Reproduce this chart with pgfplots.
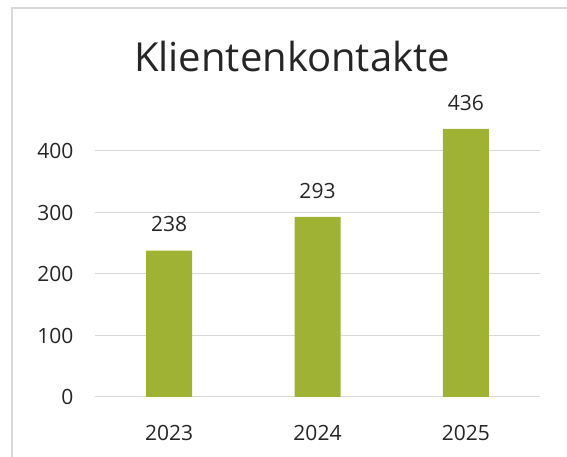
\documentclass[border=0pt]{standalone}
\usepackage{fontspec}
\setmainfont{Open Sans}
\usepackage{pgfplots}
\pgfplotsset{compat=1.18}
\definecolor{bargreen}{RGB}{160,178,52}
\definecolor{gridgray}{RGB}{217,217,217}
\definecolor{txt}{RGB}{38,38,38}

\begin{document}
\begin{tikzpicture}[x=1pt,y=1pt]
  \path[use as bounding box] (0,0) rectangle (567,457);
  \draw[gridgray, line width=1.5pt] (12,0) -- (12,449) -- (567,449);
  \node[txt, font=\fontsize{40}{48}\selectfont] at (292,400) {Klientenkontakte};
  \begin{axis}[
    at={(95pt,60pt)}, anchor=south west,
    scale only axis,
    width=445pt, height=276.75pt,
    ymin=0, ymax=450,
    xmin=-0.5, xmax=2.5,
    ytick={0,100,200,300,400},
    xtick=data,
    xticklabels={2023,2024,2025},
    ybar, bar width=46pt,
    axis x line*=bottom,
    axis y line*=left,
    x axis line style={draw=gridgray, line width=1pt},
    y axis line style={draw=none},
    major tick length=0pt,
    ymajorgrids,
    grid style={draw=gridgray, line width=1pt},
    tick label style={txt, font=\fontsize{21}{26}\selectfont},
    /pgf/number format/assume math mode=true,
    yticklabel style={xshift=-18pt},
    xticklabel style={yshift=-25pt},
    nodes near coords,
    nodes near coords style={txt, font=\fontsize{21}{26}\selectfont, yshift=15pt},
  ]
    \addplot[fill=bargreen, draw=none] coordinates {(0,238) (1,293) (2,436)};
  \end{axis}
\end{tikzpicture}
\end{document}
